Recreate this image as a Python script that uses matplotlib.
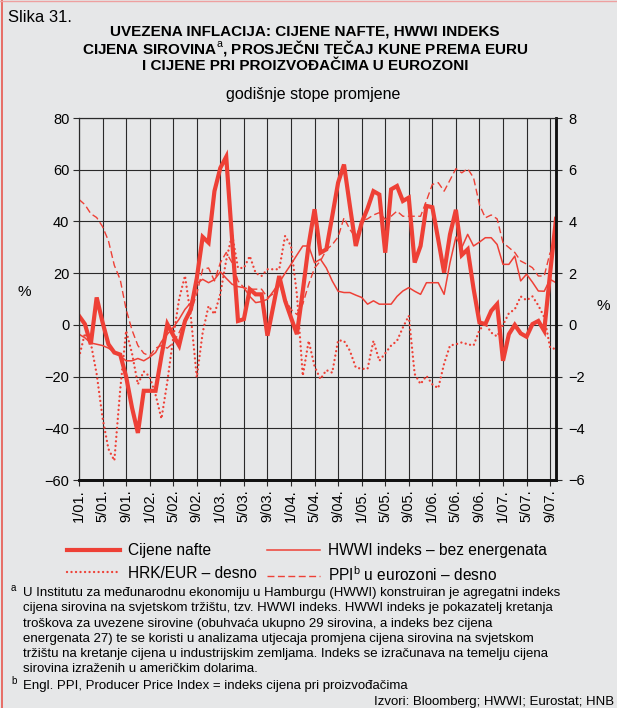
import matplotlib
matplotlib.use('Agg')
import matplotlib.pyplot as plt
from matplotlib.lines import Line2D
import numpy as np

plt.rcParams['font.family'] = ['Liberation Sans', 'DejaVu Sans']
plt.rcParams['mathtext.fontset'] = 'custom'
plt.rcParams['mathtext.rm'] = 'Liberation Sans'
plt.rcParams['axes.unicode_minus'] = True

RED = '#ee4036'
BG = '#e6e7e8'
GRID = '#2a2a2a'

# monthly data, 1/2001 - 10/2007 (annual rates of change, %)
oil = [3.5, 0.3, -7.5, 10.6, 1.0, -7.5, -10.7, -11.5, -20, -32,
       -41.8, -25.5, -25.5, -25.5, -12, 0.3, -4, -8, 1.5, 6,
       18, 34, 31.8, 51.7, 60.7, 65, 33, 1.5, 2.2, 13.8,
       11.8, 11.8, -4.2, 7.3, 18.9, 9.3, 2.8, -3.6, 13, 31,
       44.7, 27.9, 29.2, 42, 55, 62, 46, 30.5, 39.5, 45,
       51.7, 50.4, 27.9, 52.4, 53.7, 47.9, 49.2, 24.1, 30.5, 46,
       45.5, 33, 20.2, 35, 44.5, 27, 29.2, 14, 0.9, 0.3,
       5.4, 8, -13.9, -3.6, 0, -3.3, -4.6, 0.3, 1.5, -2.3,
       20, 41]

hwwi = [-3.6, -5, -7, -7.5, -8, -9, -10.5, -12, -13.9, -13.9,
        -13, -13.9, -12.5, -10.7, -6.5, -3.6, -1, 2.2, 6, 8.6,
        16, 17.6, 16.3, 17.5, 20.5, 18, 15.7, 14.8, 14.4, 11,
        8.6, 9, 9.9, 13, 16.3, 20, 23.4, 27, 30.5, 30.5,
        24, 25.4, 22, 17, 13, 12.5, 12.5, 11.5, 10.6, 8,
        9.3, 8, 8, 8, 11, 13.1, 14.4, 13, 11.8, 16.3,
        16.3, 16.3, 11.8, 24, 34, 29.9, 35, 30.5, 32, 33.7,
        33.7, 31.1, 23.4, 23.4, 26.6, 17, 19.6, 16.5, 13.1, 13,
        17.6, 16.3]

# right axis
hrk_eur = [-1.26, -0.33, -0.7, -1.9, -3.6, -4.8, -5.25, -2.5, -0.23, -1.1,
           -2.3, -1.8, -2.0, -2.7, -3.63, -2.2, -0.5, 1.0, 1.9, 0.3,
           -2.03, -0.3, 0.73, 0.41, 1.2, 2.5, 3.5, 2.2, 2.2, 2.66,
           2.0, 1.89, 2.15, 2.15, 2.15, 3.44, 3.05, 1.18, -1.97, -0.62,
           -1.6, -2.1, -1.75, -1.85, -0.6, -0.62, -1.0, -1.65, -1.7, -1.7,
           -0.62, -1.39, -1.1, -0.8, -0.62, -0.1, 0.35, -1.9, -2.29, -1.97,
           -2.3, -2.45, -1.5, -0.8, -0.75, -0.68, -0.75, -0.8, -0.2, 0.05,
           -0.3, -0.45, 0.0, 0.45, 0.6, 1.1, 0.95, 1.1, 0.75, 0.3,
           -0.88, -0.94]

ppi = [4.85, 4.65, 4.3, 4.15, 3.8, 3.25, 2.3, 1.75, 0.6, -0.2,
       -0.8, -1.1, -1.2, -0.9, -0.8, -0.9, -0.7, -0.3, 0.2, 0.5,
       1.2, 2.15, 2.2, 1.7, 2.4, 2.8, 2.4, 1.7, 1.44, 1.38,
       1.38, 1.38, 1.06, 1.2, 1.57, 1.0, 0.6, 0.4, 0.8, 1.57,
       2.2, 2.47, 2.9, 3.1, 3.4, 4.14, 3.69, 3.37, 4.02, 4.1,
       4.25, 4.34, 4.08, 4.2, 4.4, 4.2, 4.2, 4.2, 4.2, 4.8,
       5.43, 5.5, 5.17, 5.6, 6.04, 5.88, 6.04, 5.69, 4.65, 4.14,
       4.25, 4.1, 3.18, 2.99, 2.8, 2.47, 2.35, 2.21, 1.89, 1.89,
       2.8, np.nan]

tick_labels = ['1/01.', '5/01.', '9/01.', '1/02.', '5/02.', '9/02.', '1/03.',
               '5/03.', '9/03.', '1/04.', '5/04.', '9/04.', '1/05.', '5/05.',
               '9/05.', '1/06.', '5/06.', '9/06.', '1/07.', '5/07.', '9/07.']

x = np.arange(len(oil))

fig = plt.figure(figsize=(6.17, 7.08), dpi=100, facecolor=BG)
ax = fig.add_axes([79/617, 1 - 480/708, (556 - 79)/617, (480 - 118)/708])
ax.set_facecolor(BG)

ax.plot(x, oil, color=RED, lw=3.0, solid_joinstyle='miter', label='Cijene nafte')
ax.plot(x, hwwi, color=RED, lw=1.1, label='HWWI indeks – bez energenata')
ax.set_xlim(0, len(oil) - 1)
ax.set_ylim(-60, 80)
ax.set_yticks(np.arange(-60, 81, 20))
ax.set_xticks(np.arange(0, len(oil), 4))
ax.set_xticklabels(tick_labels, rotation=90, fontsize=10)
ax.grid(True, color=GRID, lw=0.8)
ax.set_axisbelow(True)
ax.tick_params(axis='both', direction='out', length=4, width=0.8, color=GRID,
               labelsize=10.5, pad=3)
ax.set_ylabel('%', rotation=0, fontsize=11)
ax.yaxis.set_label_coords(-0.115, 0.5)

ax2 = ax.twinx()
ax2.plot(x, hrk_eur, color=RED, lw=1.7, linestyle=(0, (0.01, 1.9)),
         dash_capstyle='round', label='HRK/EUR – desno')
ax2.plot(x, ppi, color=RED, lw=1.0, linestyle=(0, (5, 2.5)),
         label=r'PPI$^{\mathrm{b}}$ u eurozoni – desno')
ax2.set_ylim(-6, 8)
ax2.set_yticks(np.arange(-6, 9, 2))
ax2.tick_params(axis='y', direction='out', length=4, width=0.8, color=GRID,
                labelsize=10.5, pad=5)
ax2.set_ylabel('%', rotation=0, fontsize=11)
ax2.yaxis.set_label_coords(1.1, 0.5)

for a in (ax, ax2):
    for s in a.spines.values():
        s.set_color(GRID)
        s.set_linewidth(0.8)
    a.spines['bottom'].set_color('#111111')
    a.spines['bottom'].set_linewidth(2.0)
    a.spines['right'].set_color('#111111')
    a.spines['right'].set_linewidth(1.8)

h1, l1 = ax.get_legend_handles_labels()
h2, l2 = ax2.get_legend_handles_labels()
handles = [h1[0], h2[0], h1[1], h2[1]]
labels = [l1[0], l2[0], l1[1], l2[1]]
fig.legend(handles, labels, ncol=2, frameon=False, fontsize=11.2,
           loc='upper left', bbox_to_anchor=(67/617, 1 - 543/708),
           handlelength=3.4, handletextpad=0.55, columnspacing=0.6,
           labelspacing=0.5, borderaxespad=0, borderpad=0)

# titles
fig.text(8/617, 1 - 18/708, 'Slika 31.', fontsize=12, va='center')
title_lines = ['UVEZENA INFLACIJA: CIJENE NAFTE, HWWI INDEKS',
               r'CIJENA SIROVINA$^{\mathrm{a}}$, PROSJEČNI TEČAJ KUNE PREMA EURU',
               'I CIJENE PRI PROIZVOĐAČIMA U EUROZONI']
for i, t in enumerate(title_lines):
    fig.text(305/617, 1 - (31 + 17.5*i)/708, t, fontsize=11, fontweight='bold',
             ha='center', va='center')
fig.text(313/617, 1 - 95/708, 'godišnje stope promjene', fontsize=11.5,
         ha='center', va='center')

# footnotes
notes_a = ['U Institutu za međunarodnu ekonomiju u Hamburgu (HWWI) konstruiran je agregatni indeks',
           'cijena sirovina na svjetskom tržištu, tzv. HWWI indeks. HWWI indeks je pokazatelj kretanja',
           'troškova za uvezene sirovine (obuhvaća ukupno 29 sirovina, a indeks bez cijena',
           'energenata 27) te se koristi u analizama utjecaja promjena cijena sirovina na svjetskom',
           'tržištu na kretanje cijena u industrijskim zemljama. Indeks se izračunava na temelju cijena',
           'sirovina izraženih u američkim dolarima.']
for i, t in enumerate(notes_a):
    fig.text(23/617, 1 - (593 + 15.3*i)/708, t, fontsize=9.5, va='center')
fig.text(11/617, 1 - 588/708, 'a', fontsize=7, va='center')
fig.text(11/617, 1 - 681/708, 'b', fontsize=7, va='center')
fig.text(23/617, 1 - 686/708, 'Engl. PPI, Producer Price Index = indeks cijena pri proizvođačima',
         fontsize=9.5, va='center')
fig.text(614/617, 1 - 702/708, 'Izvori: Bloomberg; HWWI; Eurostat; HNB', fontsize=9.5,
         ha='right', va='center')

# frame accents
fig.add_artist(Line2D([0.003, 0.003], [0, 1], transform=fig.transFigure, color='#e8574f', lw=1.2))
fig.add_artist(Line2D([0, 1], [0.999, 0.999], transform=fig.transFigure, color='#eea0a0', lw=1.0))

fig.savefig('out.png', dpi=100, facecolor=BG)
